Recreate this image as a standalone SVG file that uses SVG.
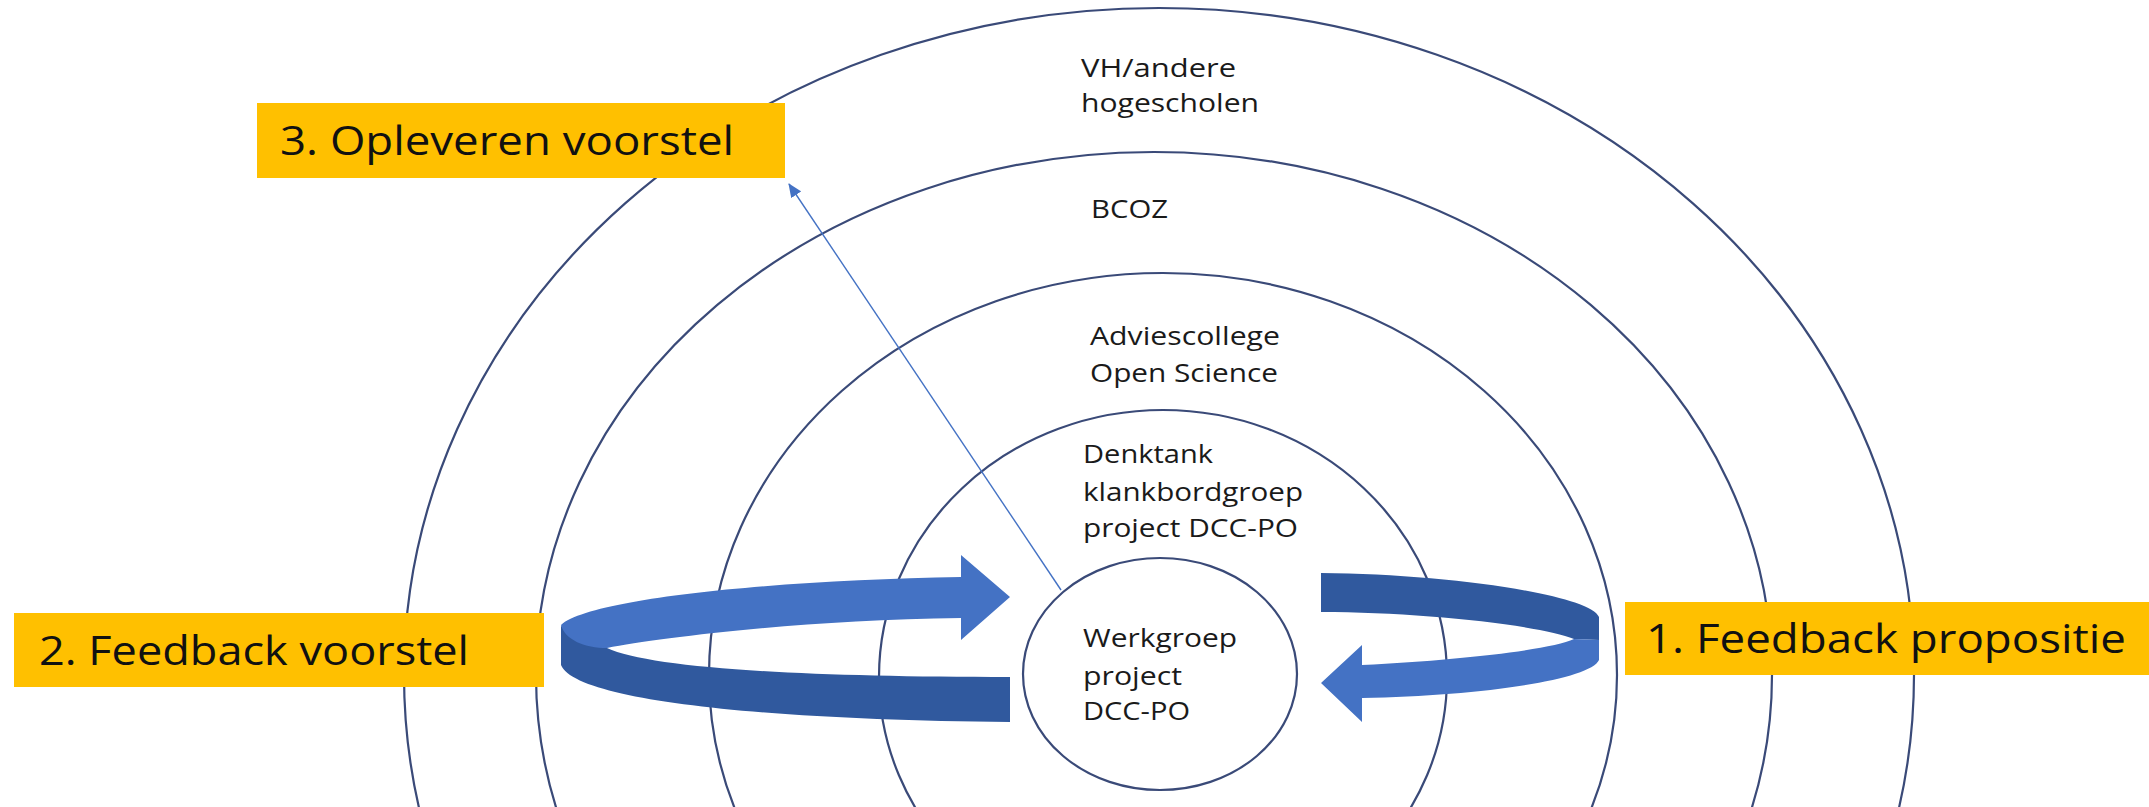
<svg xmlns="http://www.w3.org/2000/svg" width="2149" height="807" viewBox="0 0 2149 807">
<style>
.ring{fill:none;stroke:#3A4A78;stroke-width:2.2}
.lbl{font-family:"Open Sans","Liberation Sans",sans-serif;font-size:25px;fill:#1a1a1a}
.box{fill:#FFC000}
.btxt{font-family:"Open Sans","Liberation Sans",sans-serif;font-size:40px;fill:#111}
.light{fill:#4472C4}
.dark{fill:#30599E}
</style>
<defs>
<marker id="ah" markerWidth="14" markerHeight="12" refX="13" refY="6" orient="auto" markerUnits="userSpaceOnUse">
<path d="M0,0 L14,6 L0,12 Z" fill="#4472C4"/>
</marker>
</defs>
<rect width="2149" height="807" fill="#ffffff"/>

<g id="vh">
<ellipse class="ring" cx="1159" cy="675" rx="755" ry="667"/>
<text class="lbl" x="1081" y="77" textLength="155" lengthAdjust="spacingAndGlyphs">VH/andere</text>
<text class="lbl" x="1081" y="112" textLength="178" lengthAdjust="spacingAndGlyphs">hogescholen</text>
</g>
<g id="bcoz">
<ellipse class="ring" cx="1154" cy="675" rx="618" ry="523"/>
<text class="lbl" x="1091" y="218" textLength="77" lengthAdjust="spacingAndGlyphs">BCOZ</text>
</g>
<g id="adviescollege">
<ellipse class="ring" cx="1163" cy="675" rx="454" ry="402"/>
<text class="lbl" x="1090" y="345" textLength="190" lengthAdjust="spacingAndGlyphs">Adviescollege</text>
<text class="lbl" x="1090" y="382" textLength="188" lengthAdjust="spacingAndGlyphs">Open Science</text>
</g>
<g id="denktank">
<ellipse class="ring" cx="1163" cy="677" rx="284" ry="267"/>
<text class="lbl" x="1083" y="463" textLength="130" lengthAdjust="spacingAndGlyphs">Denktank</text>
<text class="lbl" x="1083" y="501" textLength="220" lengthAdjust="spacingAndGlyphs">klankbordgroep</text>
<text class="lbl" x="1083" y="537" textLength="215" lengthAdjust="spacingAndGlyphs">project DCC-PO</text>
</g>
<g id="werkgroep">
<ellipse class="ring" cx="1160" cy="674" rx="137" ry="116"/>
<text class="lbl" x="1083" y="647" textLength="154" lengthAdjust="spacingAndGlyphs">Werkgroep</text>
<text class="lbl" x="1083" y="685" textLength="99" lengthAdjust="spacingAndGlyphs">project</text>
<text class="lbl" x="1083" y="720" textLength="107" lengthAdjust="spacingAndGlyphs">DCC-PO</text>
</g>

<g id="connectors">
<line x1="1061" y1="590" x2="789" y2="184" stroke="#4472C4" stroke-width="1.4" marker-end="url(#ah)"/>
<g id="arrow-left">
<path class="dark" d="M561,626 L561,665 C575,700 760,720 1010,722 L1010,677 C800,677 650,668 607,648 Z"/>
<path class="light" d="M961,577 C780,580 590,598 561,625 C565,640 585,648 607,648 C660,638 800,620 961,618 L961,640 L1010,597 L961,555 Z"/>
</g>
<g id="arrow-right">
<path class="dark" d="M1321,573 C1450,574 1590,595 1599,617 L1599,640 L1574,639 C1540,625 1420,612 1321,612 Z"/>
<path class="light" d="M1574,639 L1599,640 L1599,660 C1590,680 1480,696 1362,698 L1362,722 L1321,683 L1362,645 L1362,665 C1460,660 1550,650 1574,639 Z"/>
</g>
</g>

<g id="box3">
<rect class="box" x="257" y="103" width="528" height="75"/>
<text class="btxt" x="280" y="155" textLength="454" lengthAdjust="spacingAndGlyphs">3. Opleveren voorstel</text>
</g>
<g id="box2">
<rect class="box" x="14" y="613" width="530" height="74"/>
<text class="btxt" x="39" y="665" textLength="430" lengthAdjust="spacingAndGlyphs">2. Feedback voorstel</text>
</g>
<g id="box1">
<rect class="box" x="1625" y="602" width="524" height="73"/>
<text class="btxt" x="1646" y="653" textLength="480" lengthAdjust="spacingAndGlyphs">1. Feedback propositie</text>
</g>
</svg>
